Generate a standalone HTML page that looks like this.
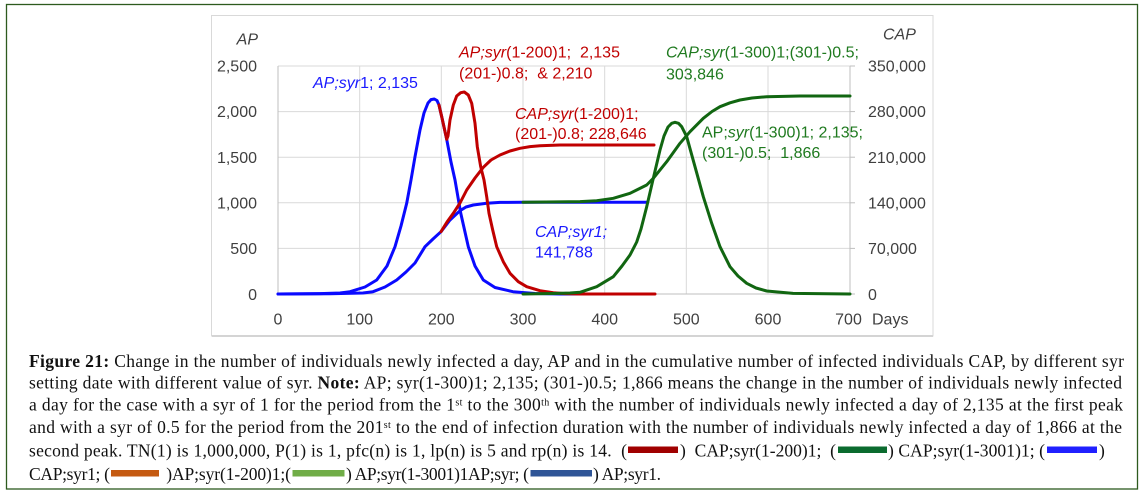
<!DOCTYPE html>
<html>
<head>
<meta charset="utf-8">
<style>
  html,body{margin:0;padding:0;background:#fff;}
  svg{display:block;}
  .ax{font-family:"Liberation Sans",sans-serif;font-size:16px;fill:#404040;}
  .an{font-family:"Liberation Sans",sans-serif;font-size:16px;white-space:pre;}
  .cap{font-family:"Liberation Serif",serif;font-size:17.5px;fill:#111;white-space:pre;}
  .it{font-style:italic;}
</style>
</head>
<body>
<svg width="1142" height="496" viewBox="0 0 1142 496" xmlns="http://www.w3.org/2000/svg">
  <rect x="0" y="0" width="1142" height="496" fill="#fff"/>
  <!-- outer figure border -->
  <rect x="6.5" y="4.5" width="1131" height="484.5" fill="none" stroke="#2d5a1e" stroke-width="1.3"/>
  <!-- chart area border -->
  <rect x="211.5" y="15.5" width="721.5" height="320.5" fill="#fff" stroke="#d9d9d9" stroke-width="1"/>
  <line x1="212" y1="336" x2="933" y2="336" stroke="#d4d4d4" stroke-width="2"/>

  <!-- gridlines -->
  <g stroke="#d9d9d9" stroke-width="1">
    <line x1="278" y1="66" x2="850" y2="66"/>
    <line x1="278" y1="111.6" x2="850" y2="111.6"/>
    <line x1="278" y1="157.2" x2="850" y2="157.2"/>
    <line x1="278" y1="202.8" x2="850" y2="202.8"/>
    <line x1="278" y1="248.4" x2="850" y2="248.4"/>
    <line x1="359.7" y1="66" x2="359.7" y2="294"/>
    <line x1="441.3" y1="66" x2="441.3" y2="294"/>
    <line x1="523" y1="66" x2="523" y2="294"/>
    <line x1="604.7" y1="66" x2="604.7" y2="294"/>
    <line x1="686.3" y1="66" x2="686.3" y2="294"/>
    <line x1="768" y1="66" x2="768" y2="294"/>
  </g>
  <!-- axes -->
  <g stroke="#bfbfbf" stroke-width="1">
    <line x1="278" y1="66" x2="278" y2="294"/>
    <line x1="278" y1="294" x2="850" y2="294"/>
    <line x1="850" y1="66" x2="850" y2="294"/>
    <line x1="850" y1="66" x2="855" y2="66"/>
    <line x1="850" y1="111.6" x2="855" y2="111.6"/>
    <line x1="850" y1="157.2" x2="855" y2="157.2"/>
    <line x1="850" y1="202.8" x2="855" y2="202.8"/>
    <line x1="850" y1="248.4" x2="855" y2="248.4"/>
    <line x1="850" y1="294" x2="855" y2="294"/>
  </g>

  <!-- left axis labels -->
  <g class="ax" text-anchor="end">
    <text x="257" y="71.5">2,500</text>
    <text x="257" y="117">2,000</text>
    <text x="257" y="163">1,500</text>
    <text x="257" y="208.5">1,000</text>
    <text x="257" y="254">500</text>
    <text x="257" y="300">0</text>
  </g>
  <text class="ax it" x="258" y="44.5" text-anchor="end">AP</text>
  <!-- right axis labels -->
  <g class="ax">
    <text x="868" y="71.5">350,000</text>
    <text x="868" y="117">280,000</text>
    <text x="868" y="163">210,000</text>
    <text x="868" y="208.5">140,000</text>
    <text x="868" y="254">70,000</text>
    <text x="868" y="300">0</text>
  </g>
  <text class="ax it" x="883" y="39.5">CAP</text>
  <!-- x axis labels -->
  <g class="ax" text-anchor="middle">
    <text x="278" y="324.5">0</text>
    <text x="359.7" y="324.5">100</text>
    <text x="441.3" y="324.5">200</text>
    <text x="523" y="324.5">300</text>
    <text x="604.7" y="324.5">400</text>
    <text x="686.3" y="324.5">500</text>
    <text x="768" y="324.5">600</text>
    <text x="848.5" y="324.5">700</text>
  </g>
  <text class="ax" x="872" y="324.5">Days</text>

  <!-- series -->
  <g fill="none" stroke-width="3" stroke-linejoin="round" stroke-linecap="round">
    <!-- blue AP syr1 -->
    <polyline stroke="#0a0aff" points="278,294 320,293.6 340,293 350,291.7 365,287 376.7,280 387,266 395,246.7 401,226 406.7,203.3 411,180 415,156.7 420,130 424,113 428,103 431,99.6 434.3,99 437,100.5 439,105 442,118 446.7,139.3 451,162 455,180 460.7,213 468.3,246.7 475,266 483.3,280 495,287.5 513,291.7 535,293.5 560,294 647,294"/>
    <!-- blue CAP syr1 -->
    <polyline stroke="#0a0aff" points="278,294 330,293.8 363,293 373,291.7 385,287 396.7,280 406,272 415,263 425,246.7 433,239 441,231.7 450,220 460,210.7 466,207 473.3,205 486.7,203.3 500,202.4 523,202.2 647,202.2"/>
    <!-- red AP -->
    <polyline stroke="#c00000" points="439,105 442,118 446.7,139.3 448,136 450,120 453.3,105 456.7,96 460.7,92.7 464.3,92 468.3,95 471.7,103.3 475,123.3 477.3,146.7 480.7,166.7 484,180 486.7,196.7 489,213.3 492.7,230 496.7,246.7 503.3,261.7 510,273.3 518.3,281.7 526.7,286.7 540,290.7 553.3,292.7 565,293.6 580,294 655,294"/>
    <!-- red CAP -->
    <polyline stroke="#c00000" points="441,231.7 447,222 453.3,213.3 460,203 466.7,190 475,178 483.3,167.3 491,160 500,155 510,151 520,148.3 530,146.6 540,145.7 560,145 654,145"/>
    <!-- green AP -->
    <polyline stroke="#116611" points="523,294 553,293.5 570,293 580,292.3 596.7,286.7 613.3,276.7 622,266 630,255 636.7,242 641,229 646.7,206.7 653.3,178.3 660,150 664,136 668,127 671.7,123.3 675,122.3 678.5,123.3 681.7,126.7 686.7,136.7 695,166.7 703.3,196.7 711.7,223.3 720,246.7 730,266.7 738,276 746.7,283.3 756,288 766.7,291 793,293.4 850,294"/>
    <!-- green CAP -->
    <polyline stroke="#116611" points="523,202.2 580,201.6 596.7,200.7 613.3,198.3 630,193.3 646.7,185 653.3,178.3 666.7,161.7 680,143.3 690,131.7 703.3,118.3 712,111.5 720,106.7 730,102.8 740,100 752,98 766.7,96.7 800,96 850,96"/>
  </g>

  <!-- annotations -->
  <text class="an" x="313" y="88" fill="#1a1aff"><tspan class="it">AP;syr</tspan>1; 2,135</text>
  <text class="an" x="459" y="57.5" fill="#c00000"><tspan class="it">AP;syr</tspan>(1-200)1;  2,135</text>
  <text class="an" x="459" y="78.5" fill="#c00000">(201-)0.8;  &amp; 2,210</text>
  <text class="an" x="515" y="119" fill="#c00000"><tspan class="it">CAP;syr</tspan>(1-200)1;</text>
  <text class="an" x="515" y="139" fill="#c00000">(201-)0.8; 228,646</text>
  <text class="an" x="666" y="57.5" fill="#1f7a1f"><tspan class="it">CAP;syr</tspan>(1-300)1;(301-)0.5;</text>
  <text class="an" x="666" y="79.5" fill="#1f7a1f">303,846</text>
  <text class="an" x="702" y="137.5" fill="#1f7a1f">AP;<tspan class="it">syr</tspan>(1-300)1; 2,135;</text>
  <text class="an" x="702" y="158" fill="#1f7a1f">(301-)0.5;  1,866</text>
  <text class="an it" x="535" y="237" fill="#1a1aff">CAP;syr1;</text>
  <text class="an" x="535" y="257.5" fill="#1a1aff">141,788</text>

  <!-- caption -->
  <text class="cap" x="29" y="367" textLength="1095" lengthAdjust="spacing"><tspan font-weight="bold">Figure 21:</tspan> Change in the number of individuals newly infected a day, AP and in the cumulative number of infected individuals CAP, by different syr</text>
  <text class="cap" x="29" y="388.5" textLength="1093" lengthAdjust="spacing">setting date with different value of syr. <tspan font-weight="bold">Note:</tspan> AP; syr(1-300)1; 2,135; (301-)0.5; 1,866 means the change in the number of individuals newly infected</text>
  <text class="cap" x="29" y="410.5" textLength="1094" lengthAdjust="spacing">a day for the case with a syr of 1 for the period from the 1<tspan baseline-shift="super" font-size="10">st</tspan> to the 300<tspan baseline-shift="super" font-size="10">th</tspan> with the number of individuals newly infected a day of 2,135 at the first peak</text>
  <text class="cap" x="29" y="433" textLength="1093" lengthAdjust="spacing">and with a syr of 0.5 for the period from the 201<tspan baseline-shift="super" font-size="10">st</tspan> to the end of infection duration with the number of individuals newly infected a day of 1,866 at the</text>

  <text class="cap" x="29" y="456.5" textLength="598" lengthAdjust="spacing">second peak. TN(1) is 1,000,000, P(1) is 1, pfc(n) is 1, lp(n) is 5 and rp(n) is 14.  (</text>
  <rect x="628" y="446.5" width="50" height="6.5" fill="#a00000"/>
  <text class="cap" x="680" y="456.5" textLength="156" lengthAdjust="spacing">)  CAP;syr(1-200)1;  (</text>
  <rect x="838" y="446.5" width="49" height="6.5" fill="#0b6b2f"/>
  <text class="cap" x="888" y="456.5" textLength="157" lengthAdjust="spacing">) CAP;syr(1-3001)1; (</text>
  <rect x="1047" y="446.5" width="50" height="6.5" fill="#2020ff"/>
  <text class="cap" x="1099" y="456.5">)</text>

  <text class="cap" x="29" y="480" textLength="81" lengthAdjust="spacing">CAP;syr1; (</text>
  <rect x="111" y="470" width="48" height="6.5" fill="#c55a11"/>
  <text class="cap" x="162" y="480" textLength="129" lengthAdjust="spacing"> )AP;syr(1-200)1;(</text>
  <rect x="292.5" y="470" width="52" height="6.5" fill="#70ad47"/>
  <text class="cap" x="346" y="480" textLength="183" lengthAdjust="spacing">) AP;syr(1-3001)1AP;syr; (</text>
  <rect x="530.5" y="470" width="61.5" height="6.5" fill="#2f5597"/>
  <text class="cap" x="593" y="480" textLength="68" lengthAdjust="spacing">) AP;syr1.</text>
</svg>
</body>
</html>
